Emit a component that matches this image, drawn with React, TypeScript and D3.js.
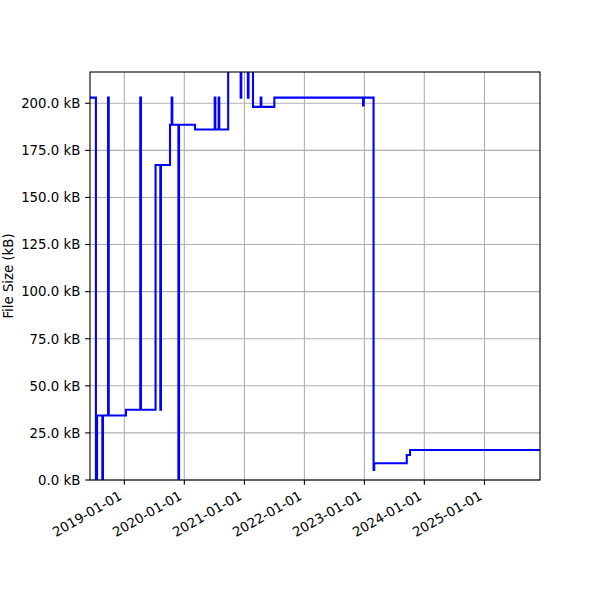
import React from "react";
import * as d3 from "d3";

const dates: string[] = [
  "2018-06-06", "2018-07-12", "2018-07-19", "2018-08-20", "2018-08-24",
  "2018-09-24", "2018-09-28", "2019-01-11", "2019-04-08", "2019-04-12",
  "2019-07-10", "2019-08-08", "2019-08-12", "2019-10-06", "2019-10-16",
  "2019-10-20", "2019-11-26", "2019-11-30", "2020-03-06", "2020-07-04",
  "2020-07-08", "2020-07-28", "2020-08-01", "2020-09-24", "2020-12-09",
  "2020-12-13", "2021-01-22", "2021-01-26", "2021-02-22", "2021-04-10",
  "2021-04-14", "2021-07-02", "2022-12-24", "2022-12-28", "2023-02-26",
  "2023-03-02", "2023-09-16", "2023-10-06", "2025-12-05",
];
const sizesKB: number[] = [
  203, 0, 34.2, 0, 34.2,
  203, 34.2, 37.3, 203, 37.3,
  167.2, 37.3, 167.2, 188.6, 203,
  188.6, 0, 188.6, 186.1, 203,
  186.1, 203, 186.1, 230, 203,
  230, 203, 230, 198.1, 203,
  198.1, 203, 198.9, 203, 5.3,
  8.9, 13.3, 15.9, 15.9,
];
const yTicks: number[] = [0, 25, 50, 75, 100, 125, 150, 175, 200];
const xTickYears: string[] = ["2019-01-01", "2020-01-01", "2021-01-01", "2022-01-01", "2023-01-01", "2024-01-01", "2025-01-01"];
const yLabel = "File Size (kB)";
const yMax = 216.6;

const parse = d3.timeParse("%Y-%m-%d");

export default function App() {
  const W = 600, H = 600;
  const left = 90, right = 540, top = 72, bottom = 480;
  const data = dates.map((d, i) => ({ date: parse(d) as Date, v: sizesKB[i] }));
  const x = d3.scaleTime()
    .domain([data[0].date, data[data.length - 1].date])
    .range([left, right]);
  const y = d3.scaleLinear().domain([0, yMax]).range([bottom, top]);
  const line = d3.line<{ date: Date; v: number }>()
    .x((d) => x(d.date))
    .y((d) => y(d.v))
    .curve(d3.curveStepAfter);
  const font = "'DejaVu Sans', sans-serif";
  const fs = 13.3;
  const tickLen = 4.86;
  const xticks = xTickYears.map((s) => parse(s) as Date);
  return (
    <svg width={W} height={H} style={{ position: "absolute", left: 0, top: 0, background: "#fff" }}>
      <defs>
        <clipPath id="plotclip">
          <rect x={left} y={top} width={right - left} height={bottom - top} />
        </clipPath>
      </defs>
      <rect x={0} y={0} width={W} height={H} fill="#fff" />
      <g>
        {xticks.map((t, i) => (
          <line key={"gx" + i} x1={x(t)} x2={x(t)} y1={top} y2={bottom} stroke="#b0b0b0" strokeWidth={1.1} />
        ))}
        {yTicks.map((t, i) => (
          <line key={"gy" + i} x1={left} x2={right} y1={y(t)} y2={y(t)} stroke="#b0b0b0" strokeWidth={1.1} />
        ))}
      </g>
      <path d={line(data) || ""} fill="none" stroke="#0000ff" strokeWidth={2.08} clipPath="url(#plotclip)" strokeLinejoin="miter" strokeLinecap="butt" />
      <rect x={left} y={top} width={right - left} height={bottom - top} fill="none" stroke="#000" strokeWidth={1.1} />
      <g fontFamily={font} fontSize={fs} fill="#000">
        {yTicks.map((t, i) => (
          <g key={"yt" + i}>
            <line x1={left - tickLen} x2={left} y1={y(t)} y2={y(t)} stroke="#000" strokeWidth={1.1} />
            <text x={left - tickLen - 4.86} y={y(t)} dy="0.36em" textAnchor="end">
              {d3.format(".1f")(t) + " kB"}
            </text>
          </g>
        ))}
        {xticks.map((t, i) => (
          <g key={"xt" + i}>
            <line x1={x(t)} x2={x(t)} y1={bottom} y2={bottom + tickLen} stroke="#000" strokeWidth={1.1} />
            <text
              transform={`translate(${x(t) - 1.5},${bottom + tickLen * 2 + 8.8}) rotate(-30)`}
              textAnchor="end"
            >
              {d3.timeFormat("%Y-%m-%d")(t)}
            </text>
          </g>
        ))}
        <text transform={`translate(12.5,${(top + bottom) / 2}) rotate(-90)`} textAnchor="middle">
          {yLabel}
        </text>
      </g>
    </svg>
  );
}
